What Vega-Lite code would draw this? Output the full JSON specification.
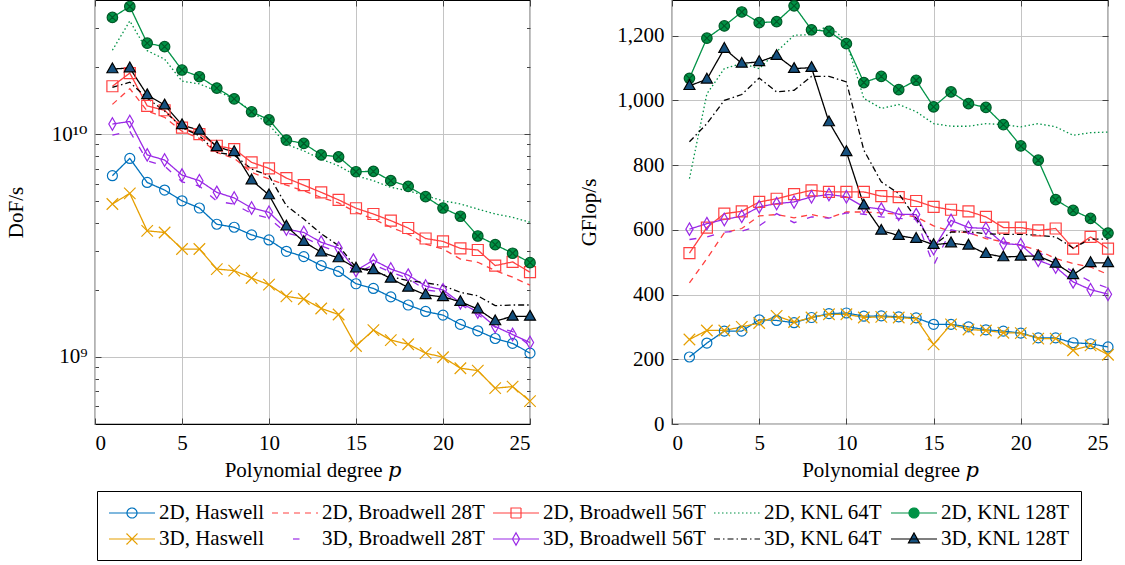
{
"$schema": "https://vega.github.io/schema/vega-lite/v6.json",
"background": "white",
"padding": {"left": 4, "top": -3, "right": 5, "bottom": 0},
"spacing": 142,
"bounds": "flush",
"data": {"values": [
{"s":"2D, Haswell","p":1,"d":6.51e9,"g":207},{"s":"2D, Haswell","p":2,"d":7.78e9,"g":250},{"s":"2D, Haswell","p":3,"d":6.07e9,"g":287},{"s":"2D, Haswell","p":4,"d":5.61e9,"g":287},{"s":"2D, Haswell","p":5,"d":5.02e9,"g":322},{"s":"2D, Haswell","p":6,"d":4.66e9,"g":320},{"s":"2D, Haswell","p":7,"d":3.94e9,"g":313},{"s":"2D, Haswell","p":8,"d":3.82e9,"g":329},{"s":"2D, Haswell","p":9,"d":3.53e9,"g":341},{"s":"2D, Haswell","p":10,"d":3.35e9,"g":343},{"s":"2D, Haswell","p":11,"d":2.98e9,"g":333},{"s":"2D, Haswell","p":12,"d":2.82e9,"g":334},{"s":"2D, Haswell","p":13,"d":2.57e9,"g":331},{"s":"2D, Haswell","p":14,"d":2.42e9,"g":328},{"s":"2D, Haswell","p":15,"d":2.13e9,"g":308},{"s":"2D, Haswell","p":16,"d":2.03e9,"g":308},{"s":"2D, Haswell","p":17,"d":1.86e9,"g":300},{"s":"2D, Haswell","p":18,"d":1.71e9,"g":291},{"s":"2D, Haswell","p":19,"d":1.60e9,"g":287},{"s":"2D, Haswell","p":20,"d":1.54e9,"g":281},{"s":"2D, Haswell","p":21,"d":1.40e9,"g":266},{"s":"2D, Haswell","p":22,"d":1.31e9,"g":266},{"s":"2D, Haswell","p":23,"d":1.21e9,"g":251},{"s":"2D, Haswell","p":24,"d":1.15e9,"g":248},{"s":"2D, Haswell","p":25,"d":1.04e9,"g":238},
{"s":"2D, Broadwell 28T","p":1,"d":1.36e10,"g":436},{"s":"2D, Broadwell 28T","p":2,"d":1.60e10,"g":511},{"s":"2D, Broadwell 28T","p":3,"d":1.27e10,"g":591},{"s":"2D, Broadwell 28T","p":4,"d":1.19e10,"g":604},{"s":"2D, Broadwell 28T","p":5,"d":1.03e10,"g":643},{"s":"2D, Broadwell 28T","p":6,"d":9.57e9,"g":647},{"s":"2D, Broadwell 28T","p":7,"d":8.28e9,"g":637},{"s":"2D, Broadwell 28T","p":8,"d":7.78e9,"g":647},{"s":"2D, Broadwell 28T","p":9,"d":6.73e9,"g":637},{"s":"2D, Broadwell 28T","p":10,"d":6.29e9,"g":655},{"s":"2D, Broadwell 28T","p":11,"d":5.90e9,"g":655},{"s":"2D, Broadwell 28T","p":12,"d":5.57e9,"g":652},{"s":"2D, Broadwell 28T","p":13,"d":5.20e9,"g":648},{"s":"2D, Broadwell 28T","p":14,"d":4.91e9,"g":640},{"s":"2D, Broadwell 28T","p":15,"d":4.46e9,"g":612},{"s":"2D, Broadwell 28T","p":16,"d":4.16e9,"g":595},{"s":"2D, Broadwell 28T","p":17,"d":3.82e9,"g":591},{"s":"2D, Broadwell 28T","p":18,"d":3.56e9,"g":573},{"s":"2D, Broadwell 28T","p":19,"d":3.21e9,"g":563},{"s":"2D, Broadwell 28T","p":20,"d":3.05e9,"g":552},{"s":"2D, Broadwell 28T","p":21,"d":2.75e9,"g":537},{"s":"2D, Broadwell 28T","p":22,"d":2.66e9,"g":511},{"s":"2D, Broadwell 28T","p":23,"d":2.44e9,"g":496},{"s":"2D, Broadwell 28T","p":24,"d":2.28e9,"g":485},{"s":"2D, Broadwell 28T","p":25,"d":2.10e9,"g":462},
{"s":"2D, Broadwell 56T","p":1,"d":1.64e10,"g":528},{"s":"2D, Broadwell 56T","p":2,"d":1.88e10,"g":607},{"s":"2D, Broadwell 56T","p":3,"d":1.34e10,"g":650},{"s":"2D, Broadwell 56T","p":4,"d":1.28e10,"g":657},{"s":"2D, Broadwell 56T","p":5,"d":1.07e10,"g":686},{"s":"2D, Broadwell 56T","p":6,"d":1.0e10,"g":696},{"s":"2D, Broadwell 56T","p":7,"d":8.87e9,"g":710},{"s":"2D, Broadwell 56T","p":8,"d":8.57e9,"g":722},{"s":"2D, Broadwell 56T","p":9,"d":7.47e9,"g":717},{"s":"2D, Broadwell 56T","p":10,"d":7.02e9,"g":717},{"s":"2D, Broadwell 56T","p":11,"d":6.35e9,"g":717},{"s":"2D, Broadwell 56T","p":12,"d":5.90e9,"g":704},{"s":"2D, Broadwell 56T","p":13,"d":5.48e9,"g":701},{"s":"2D, Broadwell 56T","p":14,"d":5.07e9,"g":689},{"s":"2D, Broadwell 56T","p":15,"d":4.65e9,"g":671},{"s":"2D, Broadwell 56T","p":16,"d":4.38e9,"g":662},{"s":"2D, Broadwell 56T","p":17,"d":4.09e9,"g":657},{"s":"2D, Broadwell 56T","p":18,"d":3.79e9,"g":640},{"s":"2D, Broadwell 56T","p":19,"d":3.40e9,"g":607},{"s":"2D, Broadwell 56T","p":20,"d":3.30e9,"g":607},{"s":"2D, Broadwell 56T","p":21,"d":3.07e9,"g":598},{"s":"2D, Broadwell 56T","p":22,"d":3.02e9,"g":604},{"s":"2D, Broadwell 56T","p":23,"d":2.57e9,"g":542},{"s":"2D, Broadwell 56T","p":24,"d":2.67e9,"g":578},{"s":"2D, Broadwell 56T","p":25,"d":2.40e9,"g":542},
{"s":"2D, KNL 64T","p":1,"d":2.38e10,"g":758},{"s":"2D, KNL 64T","p":2,"d":3.22e10,"g":1020},{"s":"2D, KNL 64T","p":3,"d":2.37e10,"g":1098},{"s":"2D, KNL 64T","p":4,"d":2.17e10,"g":1114},{"s":"2D, KNL 64T","p":5,"d":1.73e10,"g":1098},{"s":"2D, KNL 64T","p":6,"d":1.68e10,"g":1150},{"s":"2D, KNL 64T","p":7,"d":1.56e10,"g":1201},{"s":"2D, KNL 64T","p":8,"d":1.44e10,"g":1203},{"s":"2D, KNL 64T","p":9,"d":1.27e10,"g":1232},{"s":"2D, KNL 64T","p":10,"d":1.1e10,"g":1181},{"s":"2D, KNL 64T","p":11,"d":9.0e9,"g":1006},{"s":"2D, KNL 64T","p":12,"d":8.41e9,"g":975},{"s":"2D, KNL 64T","p":13,"d":7.72e9,"g":987},{"s":"2D, KNL 64T","p":14,"d":7.21e9,"g":965},{"s":"2D, KNL 64T","p":15,"d":6.51e9,"g":928},{"s":"2D, KNL 64T","p":16,"d":6.18e9,"g":920},{"s":"2D, KNL 64T","p":17,"d":5.77e9,"g":920},{"s":"2D, KNL 64T","p":18,"d":5.57e9,"g":928},{"s":"2D, KNL 64T","p":19,"d":5.29e9,"g":925},{"s":"2D, KNL 64T","p":20,"d":5.02e9,"g":918},{"s":"2D, KNL 64T","p":21,"d":4.86e9,"g":928},{"s":"2D, KNL 64T","p":22,"d":4.61e9,"g":918},{"s":"2D, KNL 64T","p":23,"d":4.38e9,"g":892},{"s":"2D, KNL 64T","p":24,"d":4.23e9,"g":900},{"s":"2D, KNL 64T","p":25,"d":4.02e9,"g":902},
{"s":"2D, KNL 128T","p":1,"d":3.34e10,"g":1068},{"s":"2D, KNL 128T","p":2,"d":3.74e10,"g":1192},{"s":"2D, KNL 128T","p":3,"d":2.56e10,"g":1230},{"s":"2D, KNL 128T","p":4,"d":2.47e10,"g":1273},{"s":"2D, KNL 128T","p":5,"d":1.94e10,"g":1240},{"s":"2D, KNL 128T","p":6,"d":1.81e10,"g":1243},{"s":"2D, KNL 128T","p":7,"d":1.61e10,"g":1292},{"s":"2D, KNL 128T","p":8,"d":1.44e10,"g":1218},{"s":"2D, KNL 128T","p":9,"d":1.26e10,"g":1213},{"s":"2D, KNL 128T","p":10,"d":1.16e10,"g":1175},{"s":"2D, KNL 128T","p":11,"d":9.4e9,"g":1055},{"s":"2D, KNL 128T","p":12,"d":9.08e9,"g":1074},{"s":"2D, KNL 128T","p":13,"d":8.07e9,"g":1033},{"s":"2D, KNL 128T","p":14,"d":7.91e9,"g":1062},{"s":"2D, KNL 128T","p":15,"d":6.78e9,"g":980},{"s":"2D, KNL 128T","p":16,"d":6.81e9,"g":1026},{"s":"2D, KNL 128T","p":17,"d":6.18e9,"g":990},{"s":"2D, KNL 128T","p":18,"d":5.83e9,"g":978},{"s":"2D, KNL 128T","p":19,"d":5.24e9,"g":925},{"s":"2D, KNL 128T","p":20,"d":4.66e9,"g":859},{"s":"2D, KNL 128T","p":21,"d":4.28e9,"g":815},{"s":"2D, KNL 128T","p":22,"d":3.49e9,"g":693},{"s":"2D, KNL 128T","p":23,"d":3.19e9,"g":660},{"s":"2D, KNL 128T","p":24,"d":2.92e9,"g":635},{"s":"2D, KNL 128T","p":25,"d":2.65e9,"g":590},
{"s":"3D, Haswell","p":1,"d":4.86e9,"g":261},{"s":"3D, Haswell","p":2,"d":5.42e9,"g":289},{"s":"3D, Haswell","p":3,"d":3.68e9,"g":289},{"s":"3D, Haswell","p":4,"d":3.62e9,"g":300},{"s":"3D, Haswell","p":5,"d":3.05e9,"g":312},{"s":"3D, Haswell","p":6,"d":3.05e9,"g":334},{"s":"3D, Haswell","p":7,"d":2.48e9,"g":315},{"s":"3D, Haswell","p":8,"d":2.44e9,"g":329},{"s":"3D, Haswell","p":9,"d":2.26e9,"g":339},{"s":"3D, Haswell","p":10,"d":2.11e9,"g":339},{"s":"3D, Haswell","p":11,"d":1.87e9,"g":329},{"s":"3D, Haswell","p":12,"d":1.82e9,"g":331},{"s":"3D, Haswell","p":13,"d":1.65e9,"g":329},{"s":"3D, Haswell","p":14,"d":1.55e9,"g":325},{"s":"3D, Haswell","p":15,"d":1.12e9,"g":246},{"s":"3D, Haswell","p":16,"d":1.32e9,"g":308},{"s":"3D, Haswell","p":17,"d":1.19e9,"g":292},{"s":"3D, Haswell","p":18,"d":1.14e9,"g":289},{"s":"3D, Haswell","p":19,"d":1.04e9,"g":282},{"s":"3D, Haswell","p":20,"d":9.97e8,"g":281},{"s":"3D, Haswell","p":21,"d":8.9e8,"g":264},{"s":"3D, Haswell","p":22,"d":8.68e8,"g":264},{"s":"3D, Haswell","p":23,"d":7.24e8,"g":228},{"s":"3D, Haswell","p":24,"d":7.36e8,"g":243},{"s":"3D, Haswell","p":25,"d":6.33e8,"g":214},
{"s":"3D, Broadwell 28T","p":1,"d":9.9e9,"g":570},{"s":"3D, Broadwell 28T","p":2,"d":1.03e10,"g":578},{"s":"3D, Broadwell 28T","p":3,"d":7.6e9,"g":593},{"s":"3D, Broadwell 28T","p":4,"d":7.2e9,"g":596},{"s":"3D, Broadwell 28T","p":5,"d":6.1e9,"g":612},{"s":"3D, Broadwell 28T","p":6,"d":5.85e9,"g":650},{"s":"3D, Broadwell 28T","p":7,"d":5.0e9,"g":622},{"s":"3D, Broadwell 28T","p":8,"d":4.85e9,"g":640},{"s":"3D, Broadwell 28T","p":9,"d":4.4e9,"g":636},{"s":"3D, Broadwell 28T","p":10,"d":4.2e9,"g":652},{"s":"3D, Broadwell 28T","p":11,"d":3.6e9,"g":648},{"s":"3D, Broadwell 28T","p":12,"d":3.45e9,"g":640},{"s":"3D, Broadwell 28T","p":13,"d":3.15e9,"g":635},{"s":"3D, Broadwell 28T","p":14,"d":2.95e9,"g":633},{"s":"3D, Broadwell 28T","p":15,"d":2.35e9,"g":490},{"s":"3D, Broadwell 28T","p":16,"d":2.6e9,"g":600},{"s":"3D, Broadwell 28T","p":17,"d":2.4e9,"g":590},{"s":"3D, Broadwell 28T","p":18,"d":2.25e9,"g":578},{"s":"3D, Broadwell 28T","p":19,"d":2.0e9,"g":562},{"s":"3D, Broadwell 28T","p":20,"d":1.95e9,"g":552},{"s":"3D, Broadwell 28T","p":21,"d":1.72e9,"g":530},{"s":"3D, Broadwell 28T","p":22,"d":1.55e9,"g":505},{"s":"3D, Broadwell 28T","p":23,"d":1.36e9,"g":470},{"s":"3D, Broadwell 28T","p":24,"d":1.3e9,"g":440},{"s":"3D, Broadwell 28T","p":25,"d":1.12e9,"g":420},
{"s":"3D, Broadwell 56T","p":1,"d":1.11e10,"g":602},{"s":"3D, Broadwell 56T","p":2,"d":1.14e10,"g":619},{"s":"3D, Broadwell 56T","p":3,"d":8.07e9,"g":632},{"s":"3D, Broadwell 56T","p":4,"d":7.65e9,"g":642},{"s":"3D, Broadwell 56T","p":5,"d":6.55e9,"g":671},{"s":"3D, Broadwell 56T","p":6,"d":6.18e9,"g":681},{"s":"3D, Broadwell 56T","p":7,"d":5.48e9,"g":686},{"s":"3D, Broadwell 56T","p":8,"d":5.17e9,"g":702},{"s":"3D, Broadwell 56T","p":9,"d":4.66e9,"g":709},{"s":"3D, Broadwell 56T","p":10,"d":4.46e9,"g":702},{"s":"3D, Broadwell 56T","p":11,"d":3.75e9,"g":671},{"s":"3D, Broadwell 56T","p":12,"d":3.62e9,"g":664},{"s":"3D, Broadwell 56T","p":13,"d":3.27e9,"g":648},{"s":"3D, Broadwell 56T","p":14,"d":3.08e9,"g":647},{"s":"3D, Broadwell 56T","p":15,"d":2.44e9,"g":542},{"s":"3D, Broadwell 56T","p":16,"d":2.72e9,"g":629},{"s":"3D, Broadwell 56T","p":17,"d":2.48e9,"g":607},{"s":"3D, Broadwell 56T","p":18,"d":2.33e9,"g":604},{"s":"3D, Broadwell 56T","p":19,"d":2.08e9,"g":557},{"s":"3D, Broadwell 56T","p":20,"d":2.00e9,"g":554},{"s":"3D, Broadwell 56T","p":21,"d":1.75e9,"g":506},{"s":"3D, Broadwell 56T","p":22,"d":1.59e9,"g":485},{"s":"3D, Broadwell 56T","p":23,"d":1.37e9,"g":439},{"s":"3D, Broadwell 56T","p":24,"d":1.26e9,"g":415},{"s":"3D, Broadwell 56T","p":25,"d":1.16e9,"g":401},
{"s":"3D, KNL 64T","p":1,"d":1.62e10,"g":872},{"s":"3D, KNL 64T","p":2,"d":1.71e10,"g":928},{"s":"3D, KNL 64T","p":3,"d":1.45e10,"g":1000},{"s":"3D, KNL 64T","p":4,"d":1.27e10,"g":1018},{"s":"3D, KNL 64T","p":5,"d":1.07e10,"g":1069},{"s":"3D, KNL 64T","p":6,"d":9.83e9,"g":1026},{"s":"3D, KNL 64T","p":7,"d":8.28e9,"g":1031},{"s":"3D, KNL 64T","p":8,"d":8.05e9,"g":1074},{"s":"3D, KNL 64T","p":9,"d":6.97e9,"g":1074},{"s":"3D, KNL 64T","p":10,"d":6.51e9,"g":1057},{"s":"3D, KNL 64T","p":11,"d":4.77e9,"g":846},{"s":"3D, KNL 64T","p":12,"d":4.16e9,"g":748},{"s":"3D, KNL 64T","p":13,"d":3.57e9,"g":712},{"s":"3D, KNL 64T","p":14,"d":3.16e9,"g":635},{"s":"3D, KNL 64T","p":15,"d":2.52e9,"g":552},{"s":"3D, KNL 64T","p":16,"d":2.41e9,"g":593},{"s":"3D, KNL 64T","p":17,"d":2.29e9,"g":594},{"s":"3D, KNL 64T","p":18,"d":2.20e9,"g":588},{"s":"3D, KNL 64T","p":19,"d":2.15e9,"g":586},{"s":"3D, KNL 64T","p":20,"d":2.09e9,"g":586},{"s":"3D, KNL 64T","p":21,"d":1.95e9,"g":583},{"s":"3D, KNL 64T","p":22,"d":1.88e9,"g":578},{"s":"3D, KNL 64T","p":23,"d":1.70e9,"g":544},{"s":"3D, KNL 64T","p":24,"d":1.71e9,"g":571},{"s":"3D, KNL 64T","p":25,"d":1.71e9,"g":571},
{"s":"3D, KNL 128T","p":1,"d":1.96e10,"g":1045},{"s":"3D, KNL 128T","p":2,"d":1.98e10,"g":1065},{"s":"3D, KNL 128T","p":3,"d":1.50e10,"g":1160},{"s":"3D, KNL 128T","p":4,"d":1.35e10,"g":1114},{"s":"3D, KNL 128T","p":5,"d":1.10e10,"g":1119},{"s":"3D, KNL 128T","p":6,"d":1.04e10,"g":1138},{"s":"3D, KNL 128T","p":7,"d":8.77e9,"g":1098},{"s":"3D, KNL 128T","p":8,"d":8.33e9,"g":1101},{"s":"3D, KNL 128T","p":9,"d":6.22e9,"g":933},{"s":"3D, KNL 128T","p":10,"d":5.33e9,"g":841},{"s":"3D, KNL 128T","p":11,"d":3.86e9,"g":676},{"s":"3D, KNL 128T","p":12,"d":3.29e9,"g":598},{"s":"3D, KNL 128T","p":13,"d":2.95e9,"g":582},{"s":"3D, KNL 128T","p":14,"d":2.78e9,"g":573},{"s":"3D, KNL 128T","p":15,"d":2.50e9,"g":554},{"s":"3D, KNL 128T","p":16,"d":2.46e9,"g":559},{"s":"3D, KNL 128T","p":17,"d":2.25e9,"g":552},{"s":"3D, KNL 128T","p":18,"d":2.05e9,"g":526},{"s":"3D, KNL 128T","p":19,"d":1.90e9,"g":516},{"s":"3D, KNL 128T","p":20,"d":1.86e9,"g":518},{"s":"3D, KNL 128T","p":21,"d":1.77e9,"g":519},{"s":"3D, KNL 128T","p":22,"d":1.64e9,"g":496},{"s":"3D, KNL 128T","p":23,"d":1.45e9,"g":461},{"s":"3D, KNL 128T","p":24,"d":1.52e9,"g":498},{"s":"3D, KNL 128T","p":25,"d":1.52e9,"g":498}
]},
"hconcat": [
{
 "width": 435, "height": 424,
 "layer": [
  {"layer": [
  {"mark": {"type": "line", "strokeWidth": 1.3},
   "encoding": {
    "x": {"field": "p", "type": "quantitative", "scale": {"domain": [0, 25], "nice": false, "zero": false}, "axis": {"values": [0,5,10,15,20,25], "title": "Polynomial degree 𝑝", "titlePadding": 6}},
    "y": {"field": "d", "type": "quantitative", "scale": {"type": "log", "domain": [5e8, 4e10], "nice": false}, "axis": {"title": "DoF/s", "titlePadding": 25, "values": [6e8,7e8,8e8,9e8,1e9,2e9,3e9,4e9,5e9,6e9,7e9,8e9,9e9,1e10,2e10,3e10], "labelExpr": "datum.value == 1e10 ? '10¹⁰' : datum.value == 1e9 ? '10⁹' : ''", "gridOpacity": {"condition": {"test": "datum.value == 1e9 || datum.value == 1e10", "value": 1}, "value": 0}, "tickSize": {"condition": {"test": "datum.value == 1e9 || datum.value == 1e10", "value": -6}, "value": -3.5}}},
    "color": {"field": "s", "type": "nominal", "scale": {"domain": ["2D, Haswell","2D, Broadwell 28T","2D, Broadwell 56T","2D, KNL 64T","2D, KNL 128T","3D, Haswell","3D, Broadwell 28T","3D, Broadwell 56T","3D, KNL 64T","3D, KNL 128T"], "range": ["#0072BD","#FF4040","#FF4040","#009246","#009246","#E69F00","#9a28e6","#9a28e6","#000000","#000000"]},
      "legend": {"title": null, "orient": "none", "legendX": 2, "legendY": 491, "direction": "horizontal", "columns": 5,
        "encode": {"symbols": {"update": {
          "shape": {"signal": "datum.value == '2D, Haswell' ? 'M-2.3,0H2.3M-0.5,0A0.5,0.5 0 1,0 0.5,0A0.5,0.5 0 1,0 -0.5,0Z' : datum.value == '2D, Broadwell 56T' ? 'M-2.3,0H2.3M-0.5,-0.5H0.5V0.5H-0.5Z' : datum.value == '2D, KNL 128T' ? 'M-2.3,0H2.3M-0.5,0A0.5,0.5 0 1,0 0.5,0A0.5,0.5 0 1,0 -0.5,0ZM-0.34,-0.34L0.34,0.34M-0.34,0.34L0.34,-0.34' : datum.value == '3D, Haswell' ? 'M-2.3,0H2.3M-0.55,-0.55L0.55,0.55M-0.55,0.55L0.55,-0.55' : datum.value == '3D, Broadwell 56T' ? 'M-2.3,0H2.3M0,-0.62L0.35,0L0,0.62L-0.35,0Z' : datum.value == '3D, KNL 128T' ? 'M-2.3,0H2.3M0,-0.6L0.55,0.38L-0.55,0.38Z' : datum.value == '3D, Broadwell 28T' ? 'M-0.2,0H0.45' : 'M-2.3,0H2.3'"},
          "strokeDash": {"signal": "datum.value == '2D, Broadwell 28T' ? [6,5] : datum.value == '2D, KNL 64T' ? [1.5,2.5] : datum.value == '3D, KNL 64T' ? [6,3,1.5,3] : [1,0]"},
          "fill": {"signal": "datum.value == '2D, KNL 128T' ? '#009246' : datum.value == '3D, KNL 128T' ? '#16517f' : 'transparent'"},
          "strokeWidth": {"value": 1.2},
          "opacity": {"value": 1}
        }}}}},
    "strokeDash": {"field": "s", "type": "nominal", "legend": null, "scale": {"domain": ["2D, Haswell","2D, Broadwell 28T","2D, Broadwell 56T","2D, KNL 64T","2D, KNL 128T","3D, Haswell","3D, Broadwell 28T","3D, Broadwell 56T","3D, KNL 64T","3D, KNL 128T"], "range": [[1,0],[6,5],[1,0],[1.5,2.5],[1,0],[1,0],[7,11],[1,0],[6,3,1.5,3],[1,0]]}}
   }},
  {"transform": [{"filter": {"field": "s", "oneOf": ["2D, Haswell","2D, Broadwell 56T","2D, KNL 128T","3D, Haswell","3D, Broadwell 56T","3D, KNL 128T"]}}],
   "mark": {"type": "point", "filled": true, "size": 100, "strokeWidth": 1.2, "opacity": 1},
   "encoding": {
    "x": {"field": "p", "type": "quantitative"},
    "y": {"field": "d", "type": "quantitative"},
    "shape": {"field": "s", "type": "nominal", "legend": null, "scale": {"domain": ["2D, Haswell","2D, Broadwell 56T","2D, KNL 128T","3D, Haswell","3D, Broadwell 56T","3D, KNL 128T"], "range": ["M-1,0A1,1 0 1,0 1,0A1,1 0 1,0 -1,0Z","M-1.1,-1.1H1.1V1.1H-1.1Z","M-1.05,0A1.05,1.05 0 1,0 1.05,0A1.05,1.05 0 1,0 -1.05,0ZM-0.7,-0.7L0.7,0.7M-0.7,0.7L0.7,-0.7","M-1.15,-1.15L1.15,1.15M-1.15,1.15L1.15,-1.15","M0,-1.25L0.72,0L0,1.25L-0.72,0Z","M0,-1.2L1.1,0.75L-1.1,0.75Z"]}},
    "fill": {"field": "s", "type": "nominal", "legend": null, "scale": {"domain": ["2D, Haswell","2D, Broadwell 56T","2D, KNL 128T","3D, Haswell","3D, Broadwell 56T","3D, KNL 128T"], "range": ["transparent","transparent","#009246","transparent","transparent","#16517f"]}},
    "stroke": {"field": "s", "type": "nominal", "legend": null, "scale": {"domain": ["2D, Haswell","2D, Broadwell 56T","2D, KNL 128T","3D, Haswell","3D, Broadwell 56T","3D, KNL 128T"], "range": ["#0072BD","#FF4040","#005a28","#E69F00","#9a28e6","#000000"]}}
   }}
  ]},
  {"mark": {"type": "point", "opacity": 0},
   "encoding": {
    "x": {"field": "p", "type": "quantitative", "scale": {"domain": [0, 25], "nice": false, "zero": false}, "axis": {"orient": "top", "values": [0,5,10,15,20,25], "labels": false, "title": null, "grid": false, "tickSize": -6}},
    "y": {"field": "d", "type": "quantitative", "scale": {"type": "log", "domain": [5e8, 4e10], "nice": false}, "axis": {"orient": "right", "values": [6e8,7e8,8e8,9e8,1e9,2e9,3e9,4e9,5e9,6e9,7e9,8e9,9e9,1e10,2e10,3e10], "labels": false, "title": null, "grid": false, "tickSize": {"condition": {"test": "datum.value == 1e9 || datum.value == 1e10", "value": -6}, "value": -3.5}}}
   }}
 ],
 "resolve": {"scale": {"x": "independent", "y": "independent"}}
},
{
 "width": 436, "height": 424,
 "layer": [
  {"layer": [
  {"mark": {"type": "line", "strokeWidth": 1.3},
   "encoding": {
    "x": {"field": "p", "type": "quantitative", "scale": {"domain": [0, 25], "nice": false, "zero": false}, "axis": {"values": [0,5,10,15,20,25], "title": "Polynomial degree 𝑝", "titlePadding": 6}},
    "y": {"field": "g", "type": "quantitative", "scale": {"domain": [0, 1310], "nice": false, "zero": false}, "axis": {"title": "GFlop/s", "titlePadding": 17, "values": [0,200,400,600,800,1000,1200], "format": ",d"}},
    "color": {"field": "s", "type": "nominal", "legend": null},
    "strokeDash": {"field": "s", "type": "nominal", "legend": null}
   }},
  {"transform": [{"filter": {"field": "s", "oneOf": ["2D, Haswell","2D, Broadwell 56T","2D, KNL 128T","3D, Haswell","3D, Broadwell 56T","3D, KNL 128T"]}}],
   "mark": {"type": "point", "filled": true, "size": 100, "strokeWidth": 1.2, "opacity": 1},
   "encoding": {
    "x": {"field": "p", "type": "quantitative"},
    "y": {"field": "g", "type": "quantitative"},
    "shape": {"field": "s", "type": "nominal", "legend": null},
    "fill": {"field": "s", "type": "nominal", "legend": null},
    "stroke": {"field": "s", "type": "nominal", "legend": null}
   }}
  ]},
  {"mark": {"type": "point", "opacity": 0},
   "encoding": {
    "x": {"field": "p", "type": "quantitative", "scale": {"domain": [0, 25], "nice": false, "zero": false}, "axis": {"orient": "top", "values": [0,5,10,15,20,25], "labels": false, "title": null, "grid": false, "tickSize": -6}},
    "y": {"field": "g", "type": "quantitative", "scale": {"domain": [0, 1310], "nice": false, "zero": false}, "axis": {"orient": "right", "values": [0,200,400,600,800,1000,1200], "labels": false, "title": null, "grid": false, "tickSize": -6}}
   }}
 ],
 "resolve": {"scale": {"x": "independent", "y": "independent"}}
}
],
"resolve": {"scale": {"color": "shared", "strokeDash": "shared", "shape": "shared", "fill": "shared", "stroke": "shared"}},
"config": {
 "font": "Liberation Serif, DejaVu Serif, serif",
 "style": {"guide-label": {"font": "Liberation Serif, DejaVu Serif, serif"}, "guide-title": {"font": "Liberation Serif, DejaVu Serif, serif"}},
 "view": {"stroke": "black", "strokeWidth": 1.2},
 "axis": {"labelFont": "Liberation Serif, DejaVu Serif, serif", "labelFontSize": 21, "labelColor": "black", "titleFont": "Liberation Serif, DejaVu Serif, serif", "titleFontSize": 21, "titleFontWeight": "normal", "titleColor": "black", "domain": false, "grid": true, "gridColor": "#c4c4c4", "gridWidth": 1, "tickColor": "#444", "tickSize": -6, "labelPadding": 14},
 "legend": {"labelFont": "Liberation Serif, DejaVu Serif, serif", "labelFontSize": 21, "labelColor": "black", "labelLimit": 0, "symbolSize": 400, "symbolOffset": 13, "labelOffset": 16, "symbolStrokeWidth": 1.2, "symbolType": "stroke", "strokeColor": "black", "padding": 11, "rowPadding": 5, "columnPadding": 5}
}
}
